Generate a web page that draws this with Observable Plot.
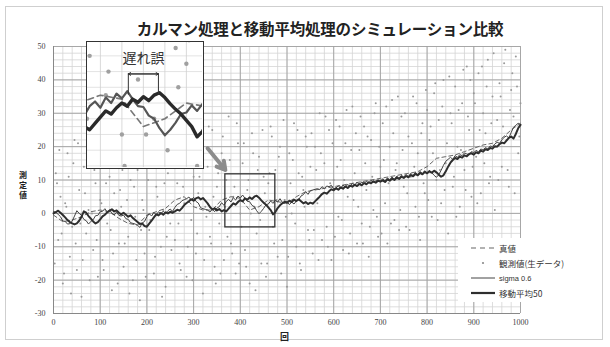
<!DOCTYPE html>
<html><head><meta charset="utf-8">
<script src="https://cdn.jsdelivr.net/npm/d3@7"></script>
<script src="https://cdn.jsdelivr.net/npm/@observablehq/plot@0.6"></script>
<style>
body{margin:0;background:#fff;font-family:"Noto Sans CJK JP",sans-serif;}
#wrap{position:relative;width:610px;height:347px;overflow:hidden;background:#fff;}
#frame{position:absolute;left:5px;top:6px;width:598px;height:334px;border:1px solid #cfcfcf;box-sizing:border-box;}
#title{position:absolute;left:0;width:640px;top:17px;text-align:center;font-weight:bold;font-size:15.5px;color:#222;letter-spacing:-0.2px;}
#main{position:absolute;left:0;top:0;}
#inset{position:absolute;left:86px;top:41px;width:118px;height:128px;border:1.6px solid #333;box-sizing:border-box;background:#fff;overflow:hidden;}
.ych{position:absolute;left:18px;width:10px;height:10px;font-size:8px;line-height:10px;font-weight:bold;text-align:center;color:#222;}
#xtitle{position:absolute;left:280px;top:330px;font-size:9px;font-weight:bold;color:#222;}
#legend{position:absolute;left:458px;top:238px;width:142px;height:64px;background:#fff;font-size:8.5px;color:#333;}
.row{position:absolute;left:12px;height:14px;display:flex;align-items:center;white-space:nowrap;}
.row svg{margin-right:3px;}
</style></head><body>
<div id="wrap">
  <div id="frame"></div>
  <div id="main"></div>
  <div id="title"></div>
  <div id="ytitle"></div>
  <div id="xtitle"></div>
  <div id="inset"></div>
  <div id="legend"></div>
</div>
<script>
// ---------- text ----------
const titleText = "カルマン処理と移動平均処理のシミュレーション比較";
const yTitle = "測定値";
const xTitle = "回";
const legendLabels = ["真値", "観測値(生データ)", "sigma 0.6", "移動平均50"];
const delayLabel = "遅れ誤";

// ---------- ticks ----------
const xTicks = [0,100,200,300,400,500,600,700,800,900,1000];
const yTicks = [-30,-20,-10,0,10,20,30,40,50];
const xMinor = d3.range(0, 1001, 20);
const yMinor = d3.range(-30, 51, 2);

// ---------- data ----------
// moving average (every 5 steps, t = 0..1000)
const maValues = [
 0,0.4,0.8,0.2,-0.5,-1.2,-2.0,-2.6,-3.0,-3.3,
 -3.0,-2.2,-1.0,0.6,0.2,-0.8,-1.6,-2.4,-3.0,-2.6,
 -1.8,-0.9,-0.4,0.3,0.8,1.2,0.6,0.9,0.2,-0.3,
 0.2,-0.4,-1.0,-0.6,-1.4,-2.0,-2.6,-3.2,-3.0,-3.8,
 -4.0,-3.1,-2.2,-1.2,-0.3,-0.6,0.1,-0.4,0.3,0.0,
 0.5,0.2,0.6,1.1,0.8,1.6,2.5,3.1,3.6,4.2,
 3.8,4.5,4.8,4.2,4.6,3.8,3.0,1.9,1.2,1.5,
 0.9,1.3,0.6,1.0,0.6,1.4,2.2,3.0,2.6,3.4,
 4.0,3.6,4.5,4.1,4.8,4.3,5.0,5.3,4.7,3.9,
 3.2,2.6,1.8,1.0,-0.3,0.4,1.6,2.4,3.0,3.5,
 3.2,3.8,3.4,4.1,3.7,4.2,3.6,3.0,3.4,2.8,
 3.2,2.9,3.6,4.3,5.0,5.8,6.2,5.9,6.6,7.2,
 6.9,7.5,7.1,7.8,7.4,8.1,7.6,8.3,8.0,8.6,
 8.2,8.8,8.4,9.1,8.7,9.3,9.0,9.6,9.2,9.8,
 9.5,9.9,9.4,10.2,9.8,10.4,10.0,10.7,10.3,11.0,
 10.6,11.2,10.8,11.5,11.1,11.8,11.4,12.1,11.7,12.4,
 12.0,12.6,12.2,12.8,12.3,11.6,11.0,11.4,12.6,14.0,
 15.2,16.0,16.6,16.3,17.0,16.7,17.4,17.1,17.8,18.0,
 17.6,18.3,18.0,18.8,18.5,19.2,19.0,19.6,19.4,20.1,
 20.0,20.7,21.2,21.0,21.8,22.6,23.0,22.4,23.8,25.5,
 26.5];
// kalman filter sigma 0.6 (every 5 steps)
const kalmanValues = [
 0.6,0.3,-0.3,-1.0,-2.3,-2.4,-3.2,-3.1,-2.3,-0.8,
 0.8,0.0,-0.6,-1.8,-2.2,-3.2,-2.4,-1.9,-0.7,-0.6,
 0.5,0.6,1.4,0.4,1.1,0.0,-0.5,0.4,-0.6,-0.8,
 -0.5,-1.6,-1.8,-2.8,-3.0,-3.2,-3.6,-4.2,-2.9,-2.4,
 -1.0,-0.1,-0.8,0.3,-0.5,0.5,-0.2,0.7,0.0,0.8,
 1.3,0.6,1.8,2.7,3.0,3.8,4.1,4.4,4.9,4.0,
 4.8,3.6,3.1,1.7,1.4,1.2,1.0,0.4,1.2,0.5,
 1.6,2.0,3.2,2.4,3.6,4.2,3.4,4.7,4.0,5.2,
 4.6,5.5,4.5,3.6,3.5,2.4,2.0,0.8,-0.1,0.6,
 1.5,2.6,2.8,3.7,3.0,3.9,3.4,4.4,3.3,3.0,
 3.6,2.6,3.4,2.8,3.7,4.1,5.2,5.6,6.5,5.7,
 6.8,7.0,7.2,7.4,7.1,8.0,7.4,8.2,8.0,8.4,
 7.3,7.6,8.3,7.4,8.5,7.8,8.7,8.0,9.0,8.5,
 9.3,8.6,9.4,8.9,9.6,9.1,9.9,9.3,9.7,10.0,
 9.6,10.4,9.7,10.6,10.1,10.9,10.2,11.2,10.5,11.4,
 10.9,11.7,11.0,12.0,11.3,12.3,11.6,12.6,11.9,12.8,
 12.1,12.9,12.2,11.4,10.8,11.6,12.9,14.4,15.6,16.2,
 16.8,16.2,17.3,16.8,17.6,17.3,18.1,17.8,17.5,18.5,
 18.2,18.9,18.4,19.3,19.0,19.7,19.3,20.2,20.0,20.8,
 21.3,21.0,22.0,22.8,23.2,22.6,24.2,25.8,26.4,27.0,
 26.6];
// true value (every 20 steps)
const trueValues = [
 -0.5,-2.5,-2,-1,0.5,1,0.5,-1.5,-3,-3.5,
 -0.5,0.5,1.5,4,5,2,1,1,4,5,
 4.5,1,2,4,3.5,3,5,6.5,7,7.5,
 8,8.5,9,9.5,10,10.5,11,11.5,12,12.5,
 14,16.5,17,17.5,18.5,19.5,20.5,21,22.5,25,
 27];
// observations, t = 5, 10, ..., 1000
const obsValues = [
 12,-8,5,-21,3,18,-13,-4,22,-17,
 7,-25,14,-6,1,26,-11,9,-19,4,
 -14,20,-3,11,-23,6,16,-9,2,-16,
 23,-7,10,-20,-1,13,-26,4,-12,19,
 -5,15,-18,8,24,-10,1,-22,12,-3,
 21,-8,9,-15,17,3,-19,27,-2,11,
 -12,6,19,-24,2,14,-7,25,-16,8,
 -3,18,-14,10,29,-9,5,-18,21,0,
 15,-11,7,-21,24,2,-6,17,-15,11,
 -19,9,26,-4,13,-13,20,-8,4,-22,
 18,0,27,-10,12,-17,7,23,-5,14,
 -12,20,3,30,-8,15,-4,25,-14,10,
 28,-1,16,-11,21,5,-6,32,12,-9,
 19,-3,26,7,-13,22,1,33,-7,14,
 27,3,-9,20,34,-2,15,-5,29,8,
 -4,23,11,35,2,18,-8,27,6,31,
 22,-1,36,10,28,3,40,15,-6,30,
 8,38,20,2,33,13,44,25,5,36,
 17,42,6,30,24,46,11,35,1,28,
 39,14,45,22,8,37,29,47,18,33];
// observations, t = 2.5, 7.5, ..., 997.5
const obsValues2 = [
 -15,9,19,-6,-18,2,11,-24,15,-9,
 21,-3,-14,6,17,-20,0,13,-8,24,
 3,-17,9,25,-5,-12,18,-21,7,13,
 -9,4,-24,16,8,-14,21,-5,1,-19,
 10,-2,20,-13,5,17,-25,9,-7,22,
 -11,14,24,-3,-17,8,19,-10,4,-20,
 16,-6,11,22,-14,-1,26,-9,5,-21,
 12,-18,23,2,-7,16,-12,8,27,-15,
 -4,21,-16,10,0,18,-23,13,-2,25,
 6,-15,12,23,-9,4,17,-18,28,-1,
 -13,9,16,-3,25,-15,11,2,20,-8,
 24,-5,13,-14,18,6,29,-10,9,21,
 -7,14,26,-2,10,31,-12,19,4,24,
 2,29,-9,15,23,-4,11,30,-1,20,
 -6,16,32,9,-3,24,13,35,1,19,
 30,6,-5,21,14,33,-1,24,9,37,
 4,26,18,39,-2,13,32,7,21,41,
 27,11,-1,31,19,43,7,29,40,14,
 33,3,25,44,15,38,9,27,48,20,
 10,35,26,49,13,31,42,6,38,23];

// zoom window and annotations (data coordinates)
const zoomWin = {x1: 368, x2: 475, y1: -4.2, y2: 11.7};
const pointer = {x1: 330, y1: 19.5, x2: 368, y2: 13.0};
const delayMarks = {t1: 406, t2: 434, yArrow: 7.7, yBase: 5.0, yText: 9.7};

// build tables
const ma = maValues.map((v,i)=>({t:i*5, v}));
const kalman = kalmanValues.map((v,i)=>({t:i*5, v}));
const truth = trueValues.map((v,i)=>({t:i*20, v}));
const obs = obsValues.map((v,i)=>({t:(i+1)*5, v}))
  .concat(obsValues2.map((v,i)=>({t:i*5+2.5, v})));

// ---------- main chart ----------
const main = Plot.plot({
  width: 610, height: 347,
  marginLeft: 53, marginRight: 90, marginTop: 46, marginBottom: 34,
  x: {domain: [0, 1000]},
  y: {domain: [-30, 50]},
  style: {background: "transparent", fontFamily: "'Liberation Serif', serif", fontSize: "8px", color: "#444"},
  marks: [
    Plot.ruleY(yMinor, {stroke: "#d4d4d4", strokeWidth: 0.8}),
    Plot.ruleX(xMinor, {stroke: "#d4d4d4", strokeWidth: 0.8}),
    Plot.ruleY(yTicks, {stroke: "#a0a0a0", strokeWidth: 0.9}),
    Plot.ruleX(xTicks, {stroke: "#a0a0a0", strokeWidth: 0.9}),
    Plot.ruleX([0], {stroke: "#888"}),
    Plot.ruleY([-30], {stroke: "#888"}),
    Plot.dot(obs, {x: "t", y: "v", r: 1, fill: "#999", stroke: "none"}),
    Plot.line(truth, {x: "t", y: "v", stroke: "#666", strokeWidth: 1, strokeDasharray: "4,3"}),
    Plot.line(kalman, {x: "t", y: "v", stroke: "#444", strokeWidth: 1}),
    Plot.line(ma, {x: "t", y: "v", stroke: "#2e2e2e", strokeWidth: 2}),
    Plot.rect([zoomWin], {x1: "x1", x2: "x2", y1: "y1", y2: "y2", fill: "none", stroke: "#333", strokeWidth: 1.3}),
    Plot.arrow([pointer], {x1: "x1", y1: "y1", x2: "x2", y2: "y2", stroke: "#8c8c8c", strokeWidth: 4, headLength: 8}),
    Plot.axisX({ticks: xTicks, tickSize: 0, tickPadding: 6, tickFormat: d => String(d), label: null}),
    Plot.axisY({ticks: yTicks, tickSize: 0, tickPadding: 8, tickFormat: d => String(d), label: null})
  ]
});
document.getElementById("main").appendChild(main);

// ---------- inset ----------
const inset = Plot.plot({
  width: 115, height: 125, margin: 0,
  x: {domain: [zoomWin.x1, zoomWin.x2], axis: null},
  y: {domain: [zoomWin.y1, zoomWin.y2], axis: null},
  clip: true,
  style: {background: "#fff", fontFamily: "'Noto Sans CJK JP', sans-serif"},
  marks: [
    Plot.ruleY(yMinor, {stroke: "#dcdcdc", strokeWidth: 0.8}),
    Plot.ruleX(xMinor, {stroke: "#cfcfcf", strokeWidth: 0.8}),
    Plot.dot(obs, {x: "t", y: "v", r: 2.2, fill: "#a0a0a0", stroke: "none"}),
    Plot.line(truth, {x: "t", y: "v", stroke: "#777", strokeWidth: 1.6, strokeDasharray: "6,4"}),
    Plot.line(kalman, {x: "t", y: "v", stroke: "#555", strokeWidth: 2.2}),
    Plot.line(ma, {x: "t", y: "v", stroke: "#2a2a2a", strokeWidth: 3.4}),
    Plot.ruleX([delayMarks.t1, delayMarks.t2], {y1: delayMarks.yBase, y2: delayMarks.yArrow, stroke: "#333", strokeWidth: 1}),
    Plot.arrow([delayMarks], {x1: "t1", x2: "t2", y1: "yArrow", y2: "yArrow", stroke: "#333", strokeWidth: 1, headLength: 4, bend: 0}),
    Plot.arrow([delayMarks], {x1: "t2", x2: "t1", y1: "yArrow", y2: "yArrow", stroke: "#333", strokeWidth: 1, headLength: 4, bend: 0}),
    Plot.text([delayMarks], {x: (d)=>(d.t1+d.t2)/2, y: "yText", text: ()=>delayLabel, fontSize: 14, fill: "#333"})
  ]
});
document.getElementById("inset").appendChild(inset);

// ---------- texts ----------
document.getElementById("title").textContent = titleText;
const yt = document.getElementById("ytitle");
yTitle.split("").forEach((ch, i) => {
  const c = document.createElement("div");
  c.className = "ych";
  c.style.top = (170 + i * 10) + "px";
  c.textContent = ch;
  yt.appendChild(c);
});
document.getElementById("xtitle").textContent = xTitle;

// ---------- legend ----------
const legend = document.getElementById("legend");
const swatches = [
  '<svg width="26" height="8"><line x1="1" y1="4" x2="25" y2="4" stroke="#666" stroke-width="1.2" stroke-dasharray="5,4"/></svg>',
  '<svg width="26" height="8"><circle cx="13" cy="4" r="1.1" fill="#8a8a8a"/></svg>',
  '<svg width="26" height="8"><line x1="1" y1="4" x2="25" y2="4" stroke="#444" stroke-width="1"/></svg>',
  '<svg width="26" height="8"><line x1="1" y1="4" x2="25" y2="4" stroke="#2e2e2e" stroke-width="2.2"/></svg>'
];
legendLabels.forEach((lab, i) => {
  const row = document.createElement("div");
  row.className = "row";
  row.style.top = (3 + i * 15) + "px";
  row.innerHTML = swatches[i] + '<span style="' + (i === 2 ? 'font-size:7.5px;font-family:Liberation Sans' : '') + '">' + lab + '</span>';
  legend.appendChild(row);
});
</script>
</body></html>
